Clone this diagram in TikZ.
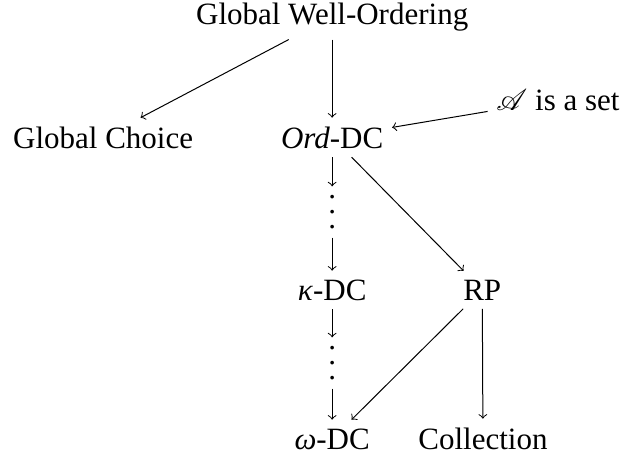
\documentclass[tikz,border=0pt]{standalone}
\usepackage{mathrsfs}
\usepackage{fontspec}
\setmainfont{Liberation Serif}
\usepackage{tikz}

\newcommand{\spreadvdots}{\vbox{\baselineskip6pt\lineskiplimit0pt\hbox{.}\hbox{.}\hbox{.}}}

\begin{document}
\begin{tikzpicture}[every node/.style={anchor=base,font=\fontsize{12.4}{15}\selectfont}]
      \useasboundingbox (0,0) rectangle (8.801,6.411);

      \node (global-wo)     at (4.67,6.073) {Global Well-Ordering};
      \node (global-choice) at (1.45,4.330) {Global Choice};
      \node (ord-dc)        at (4.67,4.330) {\textit{Ord}-DC};
      \node (a-set)         at (7.845,4.864) {$\mathscr{A}$ is a set};
      \node[anchor=center] (dots-a) at (4.67,3.430) {\spreadvdots};
      \node (kappa-dc)      at (4.67,2.193) {\textit{κ}-DC};
      \node (rp)            at (6.78,2.193) {RP};
      \node[anchor=center] (dots-b) at (4.67,1.307) {\spreadvdots};
      \node (omega-dc)      at (4.67,0.098) {\textit{ω}-DC};
      \node (collection)    at (6.79,0.098) {Collection};

      \draw[->] (global-wo) -- (global-choice);
      \draw[->] (global-wo) -- (ord-dc);
      \draw[->] (a-set)     -- (ord-dc);
      \draw[->] (ord-dc)    -- (dots-a);
      \draw[->] (ord-dc)    -- (rp);
      \draw[->] (dots-a)    -- (kappa-dc);
      \draw[->] (kappa-dc)  -- (dots-b);
      \draw[->] (dots-b)    -- (omega-dc);
      \draw[->] (rp)        -- (omega-dc);
      \draw[->] (rp)        -- (collection);
    \end{tikzpicture}
\end{document}
